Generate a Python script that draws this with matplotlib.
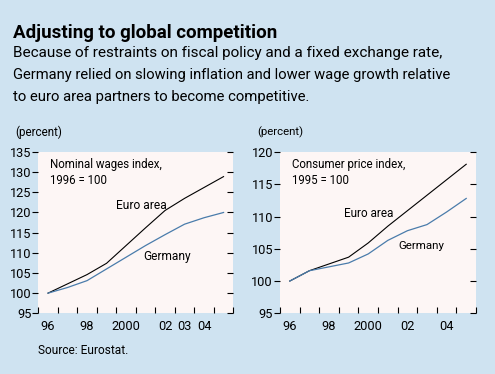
import matplotlib
matplotlib.use("Agg")
import matplotlib.pyplot as plt

plt.rcParams['font.family'] = ['Roboto', 'Liberation Sans', 'DejaVu Sans']

# data
years = [1996, 1997, 1998, 1999, 2000, 2001, 2002, 2003, 2004, 2005]

wages_euro = [100, 102.3, 104.6, 107.4, 111.8, 116.2, 120.5, 123.5, 126.2, 128.9]
wages_germany = [100, 101.4, 103.1, 106.0, 108.9, 111.8, 114.5, 117.1, 118.7, 120.0]

cpi_euro = [100, 101.6, 102.65, 103.7, 105.9, 108.5, 110.9, 113.3, 115.7, 118.1]
cpi_germany = [100, 101.6, 102.2, 102.8, 104.2, 106.3, 107.8, 108.75, 110.7, 112.8]

wages_ticks = [95, 100, 105, 110, 115, 120, 125, 130, 135]
cpi_ticks = [95, 100, 105, 110, 115, 120]

wages_xlabels = ['96', '', '98', '', '2000', '', '02', '03', '04', '']
cpi_xlabels = ['96', '', '98', '', '2000', '', '02', '', '04', '']

title = "Adjusting to global competition"
subtitle = ["Because of restraints on fiscal policy and a fixed exchange rate,",
            "Germany relied on slowing inflation and lower wage growth relative",
            "to euro area partners to become competitive."]

BG = '#cfe3f1'
PANEL = '#fdf6f5'
BLUE = '#4a7cab'

W, H = 495, 374
fig = plt.figure(figsize=(W / 100, H / 100), dpi=100, facecolor=BG)
renderer = fig.canvas.get_renderer()


def fit(t, width_px):
    # scale the font so the text spans roughly the width it has in the reference
    w = t.get_window_extent(renderer).width
    t.set_fontsize(t.get_fontsize() * width_px / w)
    return t


def px(x, y):
    return x / W, 1 - y / H


def panel(left_px, width_px, euro, germany, yticks, xlabels, label, label_w, texts):
    ax = fig.add_axes([left_px / W, 1 - 313.3 / H, width_px / W, 161.3 / H])
    ax.set_facecolor(PANEL)
    xs = [y + 0.5 for y in years]
    ax.plot(xs, euro, color='black', lw=0.8)
    ax.plot(xs, germany, color=BLUE, lw=0.9)
    ax.set_xlim(years[0], years[-1] + 1)
    ax.set_ylim(yticks[0], yticks[-1])
    for s in ax.spines.values():
        s.set_visible(False)
    ax.set_xticks(years + [years[-1] + 1])
    ax.set_xticklabels([])
    ax.set_xticks(xs, minor=True)
    ax.set_xticklabels(xlabels, minor=True)
    ax.tick_params(axis='x', which='major', direction='in', length=4, width=0.8)
    ax.tick_params(axis='x', which='minor', length=0, labelsize=9.2, pad=5)
    ax.set_yticks(yticks)
    ax.tick_params(axis='y', direction='out', length=4, width=0.8, labelsize=9.2, pad=1)
    sec = ax.secondary_yaxis('right')
    sec.set_yticks(yticks)
    sec.tick_params(direction='in', length=4, width=0.8, labelright=False)
    sec.spines['right'].set_visible(False)

    lines = label.split('\n')
    t = fit(ax.text(years[0] + 0.6, yticks[-1] - 0.04 * (yticks[-1] - yticks[0]),
                    lines[0], fontsize=9, va='top'), label_w)
    fs = t.get_fontsize()
    ax.text(years[0] + 0.6, yticks[-1] - 0.135 * (yticks[-1] - yticks[0]),
            lines[1], fontsize=fs, va='top')
    for (tx, ty, s, w) in texts:
        fit(ax.text(tx, ty, s, fontsize=9, va='center'), w)
    return ax


panel(38.3, 195, wages_euro, wages_germany, wages_ticks, wages_xlabels,
      "Nominal wages index,\n1996 = 100", 113,
      [(2000.0, 121.7, "Euro area", 51), (2001.4, 109.0, "Germany", 48)])
panel(280, 196, cpi_euro, cpi_germany, cpi_ticks, cpi_xlabels,
      "Consumer price index,\n1995 = 100", 115,
      [(1999.25, 110.4, "Euro area", 50), (2002.05, 105.5, "Germany", 46)])

fit(fig.text(*px(15, 132), "(percent)", fontsize=9, va='center'), 48)
fit(fig.text(*px(257.7, 132), "(percent)", fontsize=9, va='center'), 47)

fit(fig.text(*px(13, 37.5), title, fontsize=13, fontweight='bold', va='baseline'), 265)
sub_w = [427, 435, 297]
for i, line in enumerate(subtitle):
    fit(fig.text(*px(13, 57.5 + 22 * i), line, fontsize=11, va='baseline'), sub_w[i])

fit(fig.text(*px(37.7, 350), "Source: Eurostat.", fontsize=8, va='center'), 91)

fig.savefig("out.png", dpi=100, facecolor=BG)
